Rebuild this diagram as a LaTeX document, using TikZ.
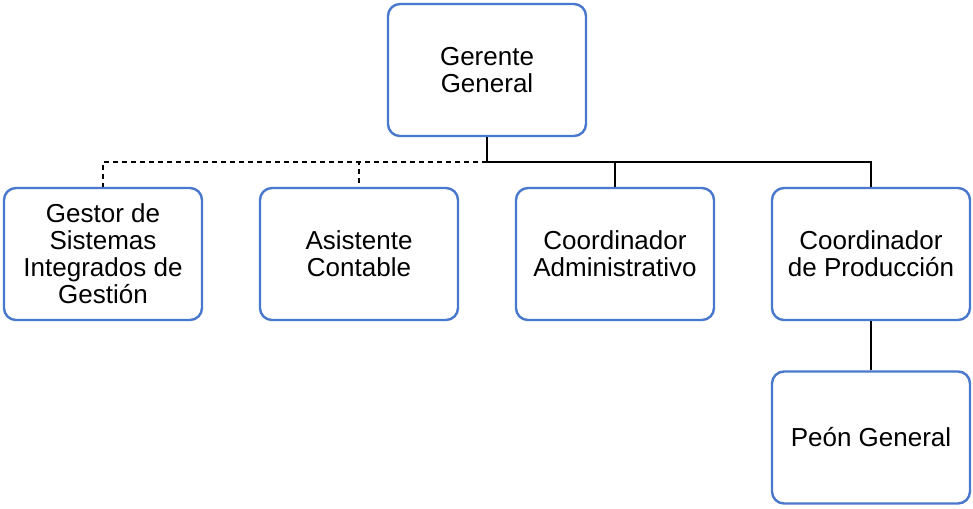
\documentclass[tikz,border=0pt]{standalone}
\usepackage{fontspec}
\setmainfont{Liberation Sans}
\definecolor{boxblue}{HTML}{4A78CC}
\begin{document}
\begin{tikzpicture}[x=1pt,y=-1pt,
  orgbox/.style={draw=boxblue, line width=2.4pt, rounded corners=12pt,
    minimum width=198pt, minimum height=132pt, align=center, inner sep=0pt,
    font=\fontsize{26}{27}\selectfont, fill=white},
  link/.style={draw=black, line width=1.1pt},
  dlink/.style={link, dash pattern=on 5pt off 4pt}]
\useasboundingbox (0,0) rectangle (973,508);
\node[orgbox] (gg) at (487,70) {Gerente\\General};
\node[orgbox] (gs) at (103,254) {Gestor de\\Sistemas\\Integrados de\\Gestión};
\node[orgbox] (ac) at (359,254) {Asistente\\Contable};
\node[orgbox] (ca) at (615,254) {Coordinador\\Administrativo};
\node[orgbox] (cp) at (871,254) {Coordinador\\de Producción};
\node[orgbox] (pg) at (871,437.5) {Peón General};
\coordinate (bus) at (487,162);
\draw[dlink] (bus) -| (gs.north);
\draw[dlink] (bus) -| (ac.north);
\draw[link] (gg.south) -- (bus) -| (cp.north);
\draw[link] (bus) -| (ca.north);
\draw[link] (cp.south) -- (pg.north);
\end{tikzpicture}
\end{document}
